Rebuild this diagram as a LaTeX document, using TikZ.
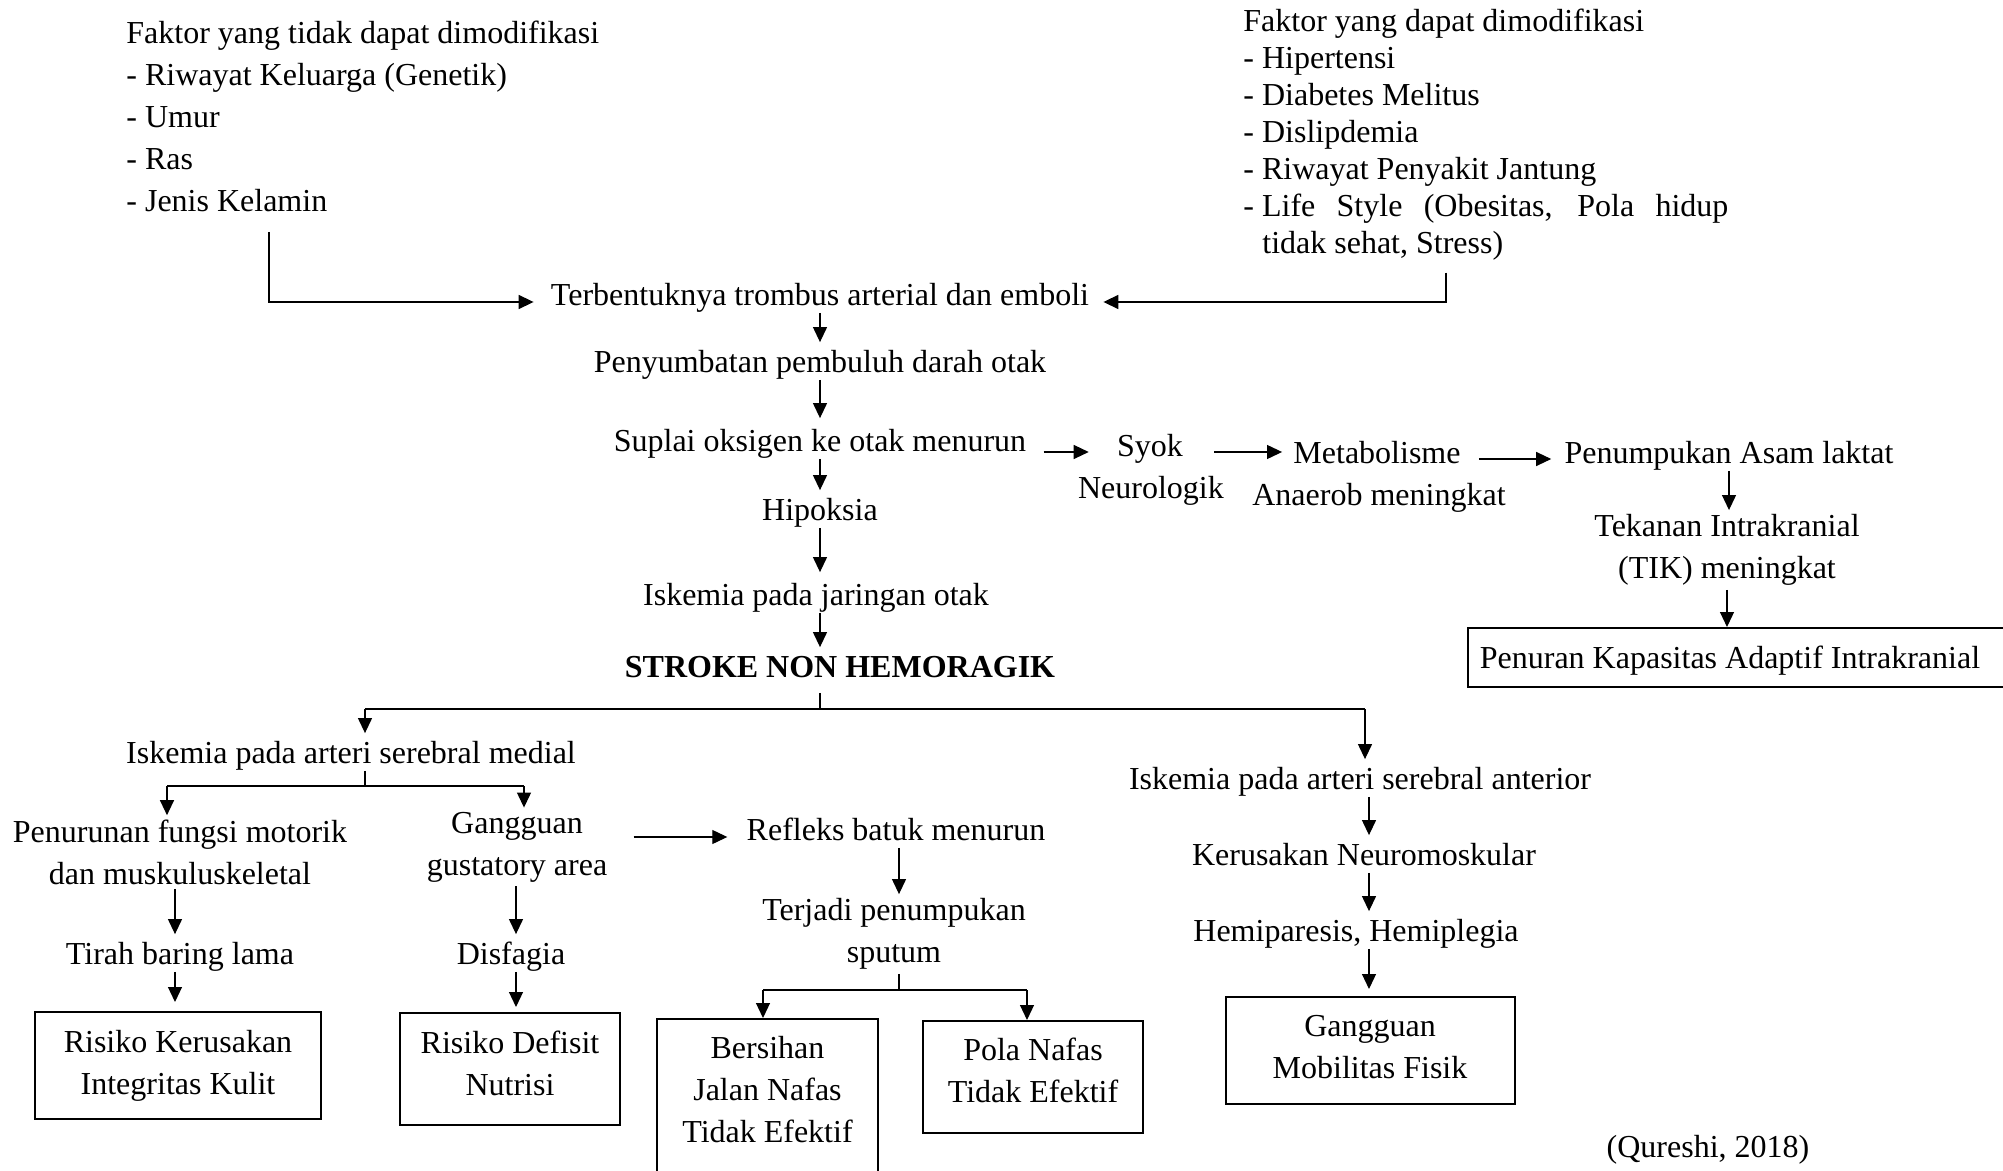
\documentclass[tikz,border=0pt]{standalone}
\usepackage{fontspec}
\setmainfont{Liberation Serif}
\usetikzlibrary{arrows.meta}
\tikzset{
  tx/.style={font=\fontsize{16}{21}\selectfont, inner xsep=0pt, inner ysep=2pt, text height=13pt, text depth=1.5pt},
  tm/.style={font=\fontsize{16}{21}\selectfont, inner xsep=0pt, inner ysep=2pt, align=center},
  bx/.style={draw, line width=1pt, align=center, font=\fontsize{16}{21}\selectfont, inner sep=0pt},
  arr/.style={-{Triangle[length=7.5pt,width=7pt]}, line width=0.6pt},
  ln/.style={line width=0.6pt},
}
\begin{document}
\begin{tikzpicture}[x=0.5pt,y=-0.5pt]
\clip (0,0) rectangle (2003,1171);
\fill[white] (0,0) rectangle (2003,1171);

% risk factor blocks
\node[font=\fontsize{16}{21}\selectfont, inner xsep=0pt, inner ysep=2pt, align=left, anchor=west] (L) at (126,116)
  {Faktor yang tidak dapat dimodifikasi\\- Riwayat Keluarga (Genetik)\\- Umur\\- Ras\\- Jenis Kelamin};
\node[font=\fontsize{16}{18.5}\selectfont, inner xsep=0pt, inner ysep=2pt, align=left, anchor=west] (R) at (1243,134.5)
  {Faktor yang dapat dimodifikasi\\- Hipertensi\\- Diabetes Melitus\\- Dislipdemia\\- Riwayat Penyakit Jantung\\
   \makebox[242.5pt][s]{-\hspace{0.25em}Life Style (Obesitas, Pola hidup}\\
   \hspace*{9.5pt}tidak sehat, Stress)};

% main spine
\node[tx] (t1) at (820,294) {Terbentuknya trombus arterial dan emboli};
\node[tx] (t2) at (820,361) {Penyumbatan pembuluh darah otak};
\node[tx] (t3) at (820,440) {Suplai oksigen ke otak menurun};
\node[tx] (t4) at (820,509) {Hipoksia};
\node[tx] (t5) at (816,594) {Iskemia pada jaringan otak};
\node[tx, font=\fontsize{16}{21}\selectfont\bfseries] (t6) at (840,666) {STROKE NON HEMORAGIK};
\coordinate (sp) at (820,0);

% right chain
\node[tx] (s1a) at (1150,445) {Syok};
\node[tx] (s1b) at (1151,487) {Neurologik};
\node[tx] (m1a) at (1377,452) {Metabolisme};
\node[tx] (m1b) at (1379,494) {Anaerob meningkat};
\node[tx] (pa) at (1729,452) {Penumpukan Asam laktat};
\node[tm] (tk) at (1727,550) {Tekanan Intrakranial\\(TIK) meningkat};
\node[bx, minimum width=273.5pt, minimum height=29.5pt] (pk) at (1741.5,657.5) {};
\node[tx] (pkt) at (1730,657) {Penuran Kapasitas Adaptif Intrakranial};

% lower part
\node[tx] (m1) at (351,752) {Iskemia pada arteri serebral medial};
\node[tx] (a1) at (1360,778) {Iskemia pada arteri serebral anterior};
\node[tm] (p1) at (180,852) {Penurunan fungsi motorik\\dan muskuluskeletal};
\node[tm] (g1) at (517,847) {Gangguan\\gustatory area};
\node[tx] (rf) at (896,829) {Refleks batuk menurun};
\node[tm] (tj) at (894,934) {Terjadi penumpukan\\sputum};
\node[tx] (tr) at (180,953) {Tirah baring lama};
\node[tx] (df) at (511,953) {Disfagia};
\node[tx] (kr) at (1364,854) {Kerusakan Neuromoskular};
\node[tx] (hm) at (1356,930) {Hemiparesis, Hemiplegia};

\node[bx, minimum width=143.25pt, minimum height=53.5pt] (b1) at (178,1065.5) {Risiko Kerusakan\\Integritas Kulit};
\node[bx, minimum width=110pt, minimum height=56pt] (b2) at (510,1069) {};
\node[tm] (b2t) at (510,1063) {Risiko Defisit\\Nutrisi};
\node[bx, minimum width=110.5pt, minimum height=86pt] (b3) at (767.5,1105) {};
\node[tm] (b3t) at (767.5,1090) {Bersihan\\Jalan Nafas\\Tidak Efektif};
\node[bx, minimum width=110pt, minimum height=56pt] (b4) at (1033,1077) {};
\node[tm] (b4t) at (1033,1070) {Pola Nafas\\Tidak Efektif};
\node[bx, minimum width=144.5pt, minimum height=53.5pt] (b5) at (1370.5,1050.5) {};
\node[tm] (b5t) at (1370,1047) {Gangguan\\Mobilitas Fisik};

\node[tx] (qr) at (1708,1146) {(Qureshi, 2018)};

% connectors: factors to t1
\coordinate (lc) at (269,302);
\coordinate (rc) at (1446,302);
\draw[arr, line width=0.8pt, shorten <=8pt, shorten >=8.5pt] (L.south -| lc) -- (lc) -- (lc -| t1.west);
\draw[arr, line width=0.8pt, shorten <=4pt, shorten >=7pt] (R.south -| rc) -- (rc) -- (rc -| t1.east);

% spine arrows
\draw[arr] (t1.south -| sp) -- (t2.north -| sp);
\draw[arr, shorten >=1.5pt] (t2.south -| sp) -- (t3.north -| sp);
\draw[arr] (t3.south -| sp) -- (t4.north -| sp);
\draw[arr, shorten >=1.5pt] (t4.south -| sp) -- (t5.north -| sp);
\draw[arr] (t5.south -| sp) -- (t6.north -| sp);

% horizontal chain
\draw[arr, shorten <=8.5pt, shorten >=14pt] ([yshift=-6pt]t3.east) -- ([yshift=-6pt]t3.east -| s1a.west);
\draw[arr, shorten <=15.5pt, shorten >=5.5pt] ([yshift=-3.5pt]s1a.east) -- ([yshift=-3.5pt]s1a.east -| m1a.west);
\draw[arr, shorten <=9pt, shorten >=6.5pt] ([yshift=-3.5pt]m1a.east) -- ([yshift=-3.5pt]m1a.east -| pa.west);
\draw[arr] (pa.south) -- (pa.south |- tk.north);
\draw[arr] (tk.south) -- (tk.south |- pk.north);

% stroke branches
\coordinate (j1) at (820,709);
\coordinate (cL) at (365,709);
\coordinate (cR) at (1365,709);
\draw[ln, shorten <=4pt] (t6.south -| j1) -- (j1);
\draw[ln] (cL) -- (cR);
\draw[arr] (cL) -- (cL |- m1.north);
\draw[arr] (cR) -- (cR |- a1.north);

% medial branch
\coordinate (bM) at (365,786);
\coordinate (bL) at (167,786);
\coordinate (bR) at (524,786);
\draw[ln] (m1.south -| bM) -- (bM);
\draw[ln] (bL) -- (bR);
\draw[arr] (bL) -- (bL |- p1.north);
\draw[arr] (bR) -- (bR |- g1.north);

\coordinate (c1) at (175,0);
\coordinate (c2) at (516,0);
\draw[arr] (p1.south -| c1) -- (tr.north -| c1);
\draw[arr, shorten >=4.5pt] (tr.south -| c1) -- (b1.north -| c1);
\draw[arr] (g1.south -| c2) -- (df.north -| c2);
\draw[arr, shorten >=2.5pt] (df.south -| c2) -- (b2.north -| c2);

\draw[arr, shorten <=13pt, shorten >=9.5pt] ([yshift=5pt]g1.east) -- ([yshift=5pt]g1.east -| rf.west);
\coordinate (c3) at (899,0);
\draw[arr] (rf.south -| c3) -- (tj.north -| c3);
\coordinate (jr) at (899,990);
\coordinate (sL) at (763,990);
\coordinate (sR) at (1027,990);
\draw[ln] (tj.south -| jr) -- (jr);
\draw[ln] (sL) -- (sR);
\draw[arr] (sL) -- (sL |- b3.north);
\draw[arr] (sR) -- (sR |- b4.north);

% anterior branch
\coordinate (c5) at (1369,0);
\draw[arr] (a1.south -| c5) -- (kr.north -| c5);
\draw[arr] (kr.south -| c5) -- (hm.north -| c5);
\draw[arr, shorten >=3.5pt] (hm.south -| c5) -- (b5.north -| c5);
\end{tikzpicture}
\end{document}
